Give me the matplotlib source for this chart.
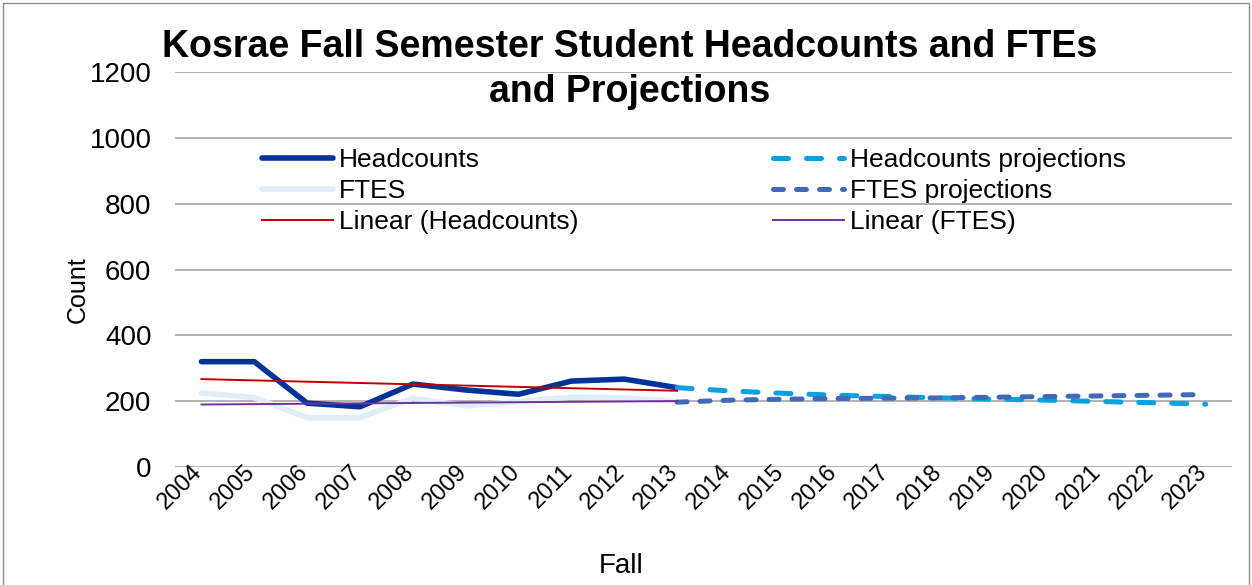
import numpy as np
import matplotlib
matplotlib.use("Agg")
import matplotlib.pyplot as plt
from matplotlib.patches import Rectangle
from matplotlib.transforms import ScaledTranslation

plt.rcParams['font.family'] = ['Liberation Sans', 'DejaVu Sans']

# data
years = [str(y) for y in range(2004, 2024)]
hist_years = years[:10]
proj_years = years[9:]
headcounts = [320, 320, 194, 183, 252, 234, 221, 261, 267, 241]
ftes = [225, 211, 150, 150, 209, 186, 199, 212, 210, 199]
headcount_proj = [241, 231, 224, 218, 214, 210, 206, 203, 199, 195, 191]
ftes_proj = [197, 203, 206, 208, 209, 210, 212, 214, 216, 218, 220]

x_all = np.arange(len(years))
x_hist = x_all[:10]
x_proj = x_all[9:]

# excel style linear trend lines
hc_fit = np.polyval(np.polyfit(x_hist, headcounts, 1), x_hist)
ft_fit = np.polyval(np.polyfit(x_hist, ftes, 1), x_hist)

fig = plt.figure(figsize=(12.52, 5.85), dpi=100)
ax = fig.add_axes([175/1252, 1-467/585, (1232-175)/1252, (467-72)/585])

for v in range(0, 1201, 200):
    ax.axhline(v, color='#A6A6A6', lw=1.2, zorder=0)

l_hc, = ax.plot(x_hist, headcounts, color='#003399', lw=4, solid_capstyle='round',
                solid_joinstyle='round', label='Headcounts', zorder=3)
l_ft, = ax.plot(x_hist, ftes, color='#DEEFF8', lw=4, solid_capstyle='round',
                solid_joinstyle='round', label='FTES', zorder=2)
l_hcp, = ax.plot(x_proj, headcount_proj, color='#00A3E0', lw=3.6, ls=(0, (3, 3.6)),
                 dash_capstyle='round', label='Headcounts projections', zorder=4)
l_ftp, = ax.plot(x_proj, ftes_proj, color='#4169B8', lw=3.6, ls=(0, (2, 2.6)),
                 dash_capstyle='round', label='FTES projections', zorder=5)
l_lhc, = ax.plot(x_hist, hc_fit, color='#C00000', lw=1.4, label='Linear (Headcounts)', zorder=6)
l_lft, = ax.plot(x_hist, ft_fit, color='#7030A0', lw=1.4, label='Linear (FTES)', zorder=6)

ax.set_xlim(-0.5, len(years) - 0.5)
ax.set_ylim(0, 1200)
ax.set_yticks(range(0, 1201, 200))
ax.set_xticks(x_all)
ax.tick_params(axis='y', labelsize=20, length=0, pad=17)
ax.tick_params(axis='x', length=0, pad=0)
ax.set_xticklabels(years, rotation=45, ha='right', va='top', rotation_mode='anchor', fontsize=17)
# nudge the rotated year labels so their corner sits under the category
shift = ScaledTranslation(-0.10, 0.06, fig.dpi_scale_trans)
for lab in ax.xaxis.get_majorticklabels():
    lab.set_transform(lab.get_transform() + shift)
for s in ax.spines.values():
    s.set_visible(False)

ax.set_ylabel('Count', fontsize=18)
ax.yaxis.set_label_coords((90-175)/1057, (467-290)/395)
ax.set_xlabel('Fall', fontsize=20)
ax.xaxis.set_label_coords((621-175)/1057, (467-553)/395)

handles = [l_hc, l_ft, l_lhc, l_hcp, l_ftp, l_lft]
ax.legend(handles, [h.get_label() for h in handles], ncol=2, frameon=False,
          fontsize=19, loc='upper left', bbox_to_anchor=((262-175)/1057, (467-148)/395),
          handlelength=2.7, handletextpad=0.23, columnspacing=7.34, labelspacing=0.27,
          borderaxespad=0, borderpad=0)

fig.text(630/1252, 1-47/585, 'Kosrae Fall Semester Student Headcounts and FTEs',
         ha='center', va='center', fontsize=27, fontweight='bold')
fig.text(630/1252, 1-92/585, 'and Projections',
         ha='center', va='center', fontsize=27, fontweight='bold')

fig.patches.append(Rectangle((0.002, -0.01), 0.996, 1.005, transform=fig.transFigure,
                             fill=False, edgecolor='#8C8C8C', lw=1))

fig.savefig('out.png', dpi=100)
